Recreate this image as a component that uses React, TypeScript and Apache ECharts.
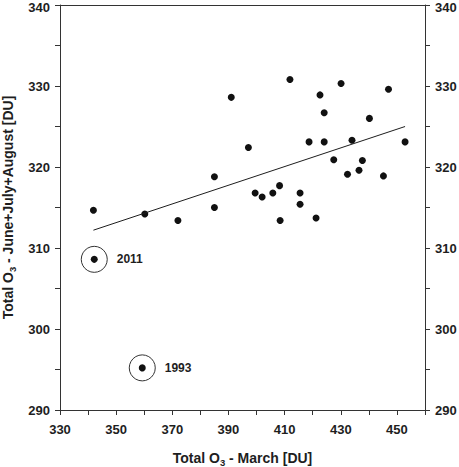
import React, { useEffect, useRef } from "react";
import * as echarts from "echarts";

const marchO3 = [341.9, 360.2, 372.0, 385.0, 385.0, 391.0, 397.1, 399.5, 402.0, 405.8, 408.2, 408.4, 411.9, 415.5, 415.5, 418.7, 421.2, 422.6, 424.1, 424.1, 427.5, 430.1, 432.4, 434.0, 436.5, 437.7, 440.2, 445.2, 447.0, 452.9];
const summerO3 = [314.65, 314.2, 313.4, 315.0, 318.8, 328.6, 322.4, 316.8, 316.3, 316.8, 317.7, 313.4, 330.8, 315.4, 316.8, 323.1, 313.7, 328.9, 326.7, 323.1, 320.9, 330.3, 319.1, 323.3, 319.6, 320.8, 326.0, 318.9, 329.6, 323.1];

const outlierYears = ["2011", "1993"];
const outlierMarch = [342.2, 359.3];
const outlierSummer = [308.6, 295.2];

const fitMarch = [341.9, 452.9];
const fitSummer = [312.2, 325.0];

const FONT = "'Liberation Sans', Arial, sans-serif";
const INK = "#1e1e1e";
const AXIS = "#333";

export default function App() {
  const ref = useRef<HTMLDivElement>(null);
  useEffect(() => {
    if (!ref.current) return;
    const chart = echarts.init(ref.current, null, { renderer: "svg" });
    const dots = marchO3.map((x, i) => [x, summerO3[i]]).concat(outlierMarch.map((x, i) => [x, outlierSummer[i]]));
    const rings = outlierMarch.map((x, i) => [x, outlierSummer[i], outlierYears[i]]);
    const fit = fitMarch.map((x, i) => [x, fitSummer[i]]);
    const labelStyle = { fontFamily: FONT, fontSize: 13, fontWeight: "bold" as const, color: INK };
    const rich = {
      a: { fontFamily: FONT, fontSize: 14, fontWeight: "bold" as const, color: INK, lineHeight: 16 },
      sub: { fontFamily: FONT, fontSize: 9.5, fontWeight: "bold" as const, color: INK, lineHeight: 10, padding: [8, 0, 0, 0] },
    };
    const yAxisBase = {
      type: "value" as const,
      min: 290,
      max: 340,
      interval: 10,
      axisLine: { show: true, lineStyle: { color: AXIS, width: 1 } },
      axisTick: { show: true, length: 5, lineStyle: { color: AXIS } },
      minorTick: { show: true, splitNumber: 2, length: 5, lineStyle: { color: AXIS } },
      splitLine: { show: false },
      axisLabel: {
        ...labelStyle,
        margin: 10,
        lineHeight: 12,
        formatter: (v: number) => (v === 340 ? "{t|" + v + "}" : String(v)),
        rich: { t: { ...labelStyle, lineHeight: 12, padding: [4, 0, 0, 0] } },
      },
    };
    chart.setOption({
      animation: false,
      grid: { left: 60, right: 34, top: 5, bottom: 57, containLabel: false, outerBoundsMode: "none" },
      xAxis: [
        {
          type: "value",
          min: 330,
          max: 460,
          interval: 10,
          axisLine: { show: true, onZero: false, lineStyle: { color: AXIS, width: 1 } },
          axisTick: { show: true, length: 5, lineStyle: { color: AXIS } },
          splitLine: { show: false },
          axisLabel: {
            ...labelStyle,
            margin: 13,
            formatter: (v: number) => ((v - 330) % 20 === 0 && v < 460 ? String(v) : ""),
          },
          name: "{a|Total O}{sub|3}{a| - March [DU]}",
          nameLocation: "middle",
          nameGap: 40,
          nameTextStyle: { rich },
        },
        {
          type: "value",
          position: "top",
          min: 330,
          max: 460,
          axisLine: { show: true, onZero: false, lineStyle: { color: AXIS, width: 1 } },
          axisTick: { show: false },
          axisLabel: { show: false },
          splitLine: { show: false },
        },
      ],
      yAxis: [
        {
          ...yAxisBase,
          position: "left",
          name: "{a|Total O}{sub|3}{a| - June+July+August [DU]}",
          nameLocation: "middle",
          nameGap: 43,
          nameTextStyle: { rich },
        },
        { ...yAxisBase, position: "right" },
      ],
      series: [
        {
          type: "line",
          data: fit,
          symbol: "none",
          lineStyle: { color: INK, width: 1 },
          silent: true,
        },
        {
          type: "scatter",
          data: dots,
          symbol: "circle",
          symbolSize: 7,
          itemStyle: { color: "#111", opacity: 1 },
        },
        {
          type: "scatter",
          data: rings,
          symbol: "circle",
          symbolSize: 26,
          itemStyle: { color: "rgba(0,0,0,0)", borderColor: "#333", borderWidth: 1, opacity: 1 },
          label: {
            show: true,
            position: "right",
            distance: 9,
            formatter: (p: any) => p.value[2],
            fontFamily: FONT,
            fontSize: 12,
            fontWeight: "bold",
            color: INK,
          },
        },
      ],
    });
    return () => chart.dispose();
  }, []);
  return <div ref={ref} style={{ position: "fixed", left: 0, top: 0, width: 459, height: 467, background: "#fff" }} />;
}
